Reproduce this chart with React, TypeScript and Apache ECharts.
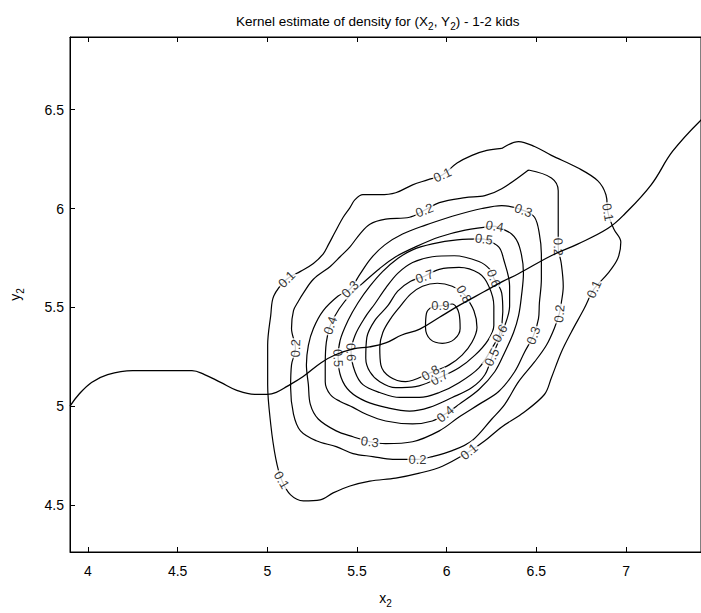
import React, { useEffect, useRef } from "react";
import * as echarts from "echarts";

const xTicks = [4, 4.5, 5, 5.5, 6, 6.5, 7];
const yTicks = [4.5, 5, 5.5, 6, 6.5];

const xMin = 3.9;
const xMax = 7.418;
const yMin = 4.262;
const yMax = 6.868;

// regression curve
const curveX = [3.90, 3.95, 4.02, 4.11, 4.25, 4.39, 4.52, 4.58, 4.65, 4.74, 4.83, 4.93, 5.00, 5.05, 5.11, 5.20, 5.30, 5.38, 5.48, 5.57, 5.66, 5.75, 5.85, 5.96, 6.07, 6.21, 6.31, 6.40, 6.58, 6.73, 6.90, 6.99, 7.14, 7.26, 7.42];
const curveY = [5.00, 5.06, 5.12, 5.16, 5.18, 5.18, 5.18, 5.18, 5.16, 5.12, 5.08, 5.06, 5.06, 5.07, 5.10, 5.15, 5.22, 5.26, 5.29, 5.30, 5.32, 5.36, 5.39, 5.45, 5.51, 5.58, 5.63, 5.67, 5.76, 5.82, 5.90, 5.97, 6.12, 6.29, 6.45];

// contour lines, [x, y] pairs
const c01 = [[6.307,6.304],[6.401,6.339],[6.490,6.314],[6.584,6.269],[6.733,6.205],[6.843,6.140],[6.888,6.070],[6.899,5.981],[6.932,5.896],[6.971,5.831],[6.954,5.747],[6.899,5.672],[6.821,5.592],[6.766,5.493],[6.694,5.373],[6.639,5.273],[6.584,5.144],[6.545,5.059],[6.417,4.960],[6.307,4.895],[6.213,4.825],[6.125,4.770],[5.976,4.696],[5.848,4.661],[5.716,4.636],[5.572,4.621],[5.461,4.596],[5.367,4.561],[5.295,4.526],[5.201,4.521],[5.130,4.551],[5.080,4.626],[5.047,4.736],[5.019,4.910],[5.002,5.109],[5.002,5.308],[5.019,5.458],[5.036,5.557],[5.108,5.642],[5.185,5.682],[5.257,5.722],[5.312,5.771],[5.340,5.816],[5.378,5.881],[5.423,5.956],[5.461,6.005],[5.489,6.045],[5.533,6.070],[5.627,6.070],[5.716,6.080],[5.810,6.120],[5.893,6.145],[5.976,6.170],[6.058,6.230],[6.141,6.269],[6.224,6.294]];
const c02 = [[6.456,6.195],[6.584,6.155],[6.622,6.090],[6.622,5.971],[6.622,5.806],[6.639,5.722],[6.650,5.607],[6.639,5.522],[6.628,5.468],[6.600,5.393],[6.556,5.308],[6.490,5.224],[6.401,5.124],[6.324,5.009],[6.252,4.935],[6.141,4.825],[6.031,4.775],[5.920,4.745],[5.837,4.731],[5.699,4.731],[5.588,4.745],[5.478,4.760],[5.384,4.795],[5.273,4.825],[5.185,4.875],[5.146,4.960],[5.130,5.094],[5.135,5.209],[5.157,5.293],[5.135,5.393],[5.146,5.483],[5.174,5.532],[5.201,5.572],[5.257,5.642],[5.351,5.707],[5.406,5.756],[5.461,5.806],[5.516,5.871],[5.572,5.921],[5.660,5.946],[5.793,5.956],[5.876,5.991],[5.959,6.030],[6.103,6.055],[6.213,6.065],[6.307,6.100]];
const c03 = [[6.031,5.961],[6.197,6.000],[6.307,6.015],[6.428,5.991],[6.490,5.956],[6.517,5.871],[6.528,5.771],[6.528,5.642],[6.517,5.522],[6.512,5.443],[6.484,5.358],[6.434,5.273],[6.379,5.174],[6.290,5.074],[6.180,5.009],[6.069,4.945],[5.959,4.875],[5.810,4.820],[5.660,4.810],[5.572,4.820],[5.478,4.845],[5.384,4.875],[5.284,4.935],[5.240,5.009],[5.229,5.109],[5.218,5.209],[5.229,5.308],[5.257,5.393],[5.312,5.483],[5.395,5.557],[5.461,5.592],[5.516,5.667],[5.577,5.747],[5.655,5.816],[5.754,5.871],[5.882,5.916]];
const c04 = [[6.268,5.911],[6.362,5.871],[6.406,5.806],[6.428,5.672],[6.417,5.557],[6.401,5.458],[6.373,5.373],[6.324,5.273],[6.268,5.174],[6.180,5.084],[6.069,5.009],[5.992,4.960],[5.920,4.925],[5.810,4.910],[5.660,4.925],[5.549,4.960],[5.478,4.994],[5.406,5.024],[5.351,5.059],[5.323,5.124],[5.323,5.209],[5.329,5.323],[5.351,5.408],[5.401,5.493],[5.467,5.567],[5.544,5.632],[5.627,5.697],[5.716,5.756],[5.826,5.806],[5.959,5.856],[6.103,5.891]];
const c05 = [[6.208,5.846],[6.290,5.806],[6.318,5.742],[6.351,5.607],[6.351,5.507],[6.324,5.408],[6.252,5.248],[6.213,5.159],[6.141,5.094],[6.031,5.044],[5.904,4.994],[5.793,4.975],[5.660,4.994],[5.549,5.024],[5.461,5.074],[5.412,5.144],[5.395,5.243],[5.406,5.333],[5.450,5.433],[5.505,5.522],[5.572,5.607],[5.644,5.682],[5.727,5.747],[5.810,5.791],[5.920,5.821],[6.058,5.841]];
const c06 = [[6.263,5.647],[6.307,5.572],[6.313,5.478],[6.296,5.368],[6.252,5.293],[6.180,5.194],[6.069,5.119],[5.959,5.069],[5.848,5.044],[5.738,5.044],[5.627,5.069],[5.533,5.109],[5.489,5.174],[5.467,5.273],[5.489,5.358],[5.544,5.448],[5.599,5.517],[5.660,5.597],[5.727,5.672],[5.810,5.727],[5.920,5.756],[6.042,5.761],[6.180,5.732],[6.241,5.692]];
const c07 = [[5.876,5.657],[5.959,5.692],[6.069,5.702],[6.180,5.672],[6.235,5.607],[6.263,5.507],[6.263,5.408],[6.230,5.333],[6.158,5.258],[6.069,5.194],[5.959,5.144],[5.826,5.099],[5.716,5.094],[5.627,5.124],[5.572,5.174],[5.549,5.243],[5.555,5.348],[5.599,5.433],[5.671,5.507],[5.727,5.582],[5.799,5.632]];
const c08 = [[6.097,5.567],[6.031,5.607],[5.948,5.622],[5.865,5.607],[5.799,5.567],[5.743,5.507],[5.688,5.443],[5.644,5.373],[5.627,5.298],[5.633,5.209],[5.682,5.149],[5.771,5.124],[5.909,5.169],[6.014,5.209],[6.086,5.258],[6.141,5.323],[6.169,5.398],[6.152,5.483]];
const c09 = [[5.965,5.507],[6.031,5.517],[6.069,5.468],[6.075,5.393],[6.042,5.338],[5.976,5.318],[5.909,5.338],[5.882,5.398],[5.887,5.468],[5.920,5.502]];

const contours = [c01, c02, c03, c04, c05, c06, c07, c08, c09];

// contour labels
const labelText = ["0.1","0.1","0.1","0.1","0.1","0.1","0.2","0.2","0.2","0.2","0.2","0.3","0.3","0.3","0.3","0.4","0.4","0.4","0.5","0.5","0.5","0.6","0.6","0.6","0.7","0.7","0.8","0.8","0.9"];
const labelX = [5.976,5.108,5.080,6.125,6.821,6.899,5.876,5.157,5.837,6.622,6.628,6.428,5.461,5.572,6.484,6.268,5.351,5.992,6.208,5.395,6.252,6.263,5.467,6.296,5.876,5.959,6.097,5.909,5.965];
const labelY = [6.170,5.642,4.626,4.770,5.592,5.981,5.991,5.293,4.731,5.806,5.468,5.991,5.592,4.820,5.358,5.911,5.408,4.960,5.846,5.243,5.248,5.647,5.273,5.368,5.657,5.144,5.567,5.169,5.507];
const labelAngle = [25,45,-60,40,65,-80,22,88,0,-88,85,-20,45,-8,70,-10,70,40,-8,-88,65,-70,-88,60,20,30,-60,30,0];

const FONT = "'Liberation Sans', Arial, sans-serif";

export default function App() {
  const ref = useRef<HTMLDivElement>(null);
  useEffect(() => {
    if (!ref.current) return;
    const chart = echarts.init(ref.current, null, { renderer: "svg" });
    const lineSeries = contours.map((pts) => ({
      type: "line",
      data: [...pts, pts[0]],
      smooth: 0.35,
      symbol: "none",
      lineStyle: { color: "#000", width: 1.2 },
      z: 2,
      silent: true,
    }));
    const labelData = labelText.map((t, i) => ({
      value: [labelX[i], labelY[i]],
      label: { formatter: t, rotate: labelAngle[i] },
    }));
    const option = {
      animation: false,
      backgroundColor: "#fff",
      title: {
        text: "Kernel estimate of density for (X{s|2}, Y{s|2}) - 1-2 kids",
        left: 231,
        top: 7,
        textStyle: {
          fontFamily: FONT,
          fontSize: 13.5,
          fontWeight: "normal",
          color: "#000",
          lineHeight: 19,
          rich: {
            s: { fontSize: 10, fontFamily: FONT, color: "#000", lineHeight: 19, verticalAlign: "bottom" },
          },
        },
      },
      grid: { left: 65, top: 37, right: 0, bottom: 53, show: true, borderColor: "#000", borderWidth: 1 },
      xAxis: [
        {
          type: "value",
          min: xMin,
          max: xMax,
          position: "bottom",
          name: "{a|x}{s|2}",
          nameLocation: "middle",
          nameGap: 36,
          nameTextStyle: {
            rich: {
              a: { fontSize: 14, fontFamily: FONT, color: "#000", lineHeight: 20 },
              s: { fontSize: 10, fontFamily: FONT, color: "#000", lineHeight: 20, verticalAlign: "bottom" },
            },
          },
          axisLine: { show: true, lineStyle: { color: "#000" } },
          axisTick: { show: true, inside: true, length: 5, customValues: xTicks, lineStyle: { color: "#000" } },
          axisLabel: { customValues: xTicks, color: "#000", fontSize: 14, fontFamily: FONT, margin: 12 },
          splitLine: { show: false },
        },
        {
          type: "value",
          min: xMin,
          max: xMax,
          position: "top",
          axisLine: { show: true, lineStyle: { color: "#000" } },
          axisTick: { show: true, inside: true, length: 5, customValues: xTicks, lineStyle: { color: "#000" } },
          axisLabel: { show: false },
          splitLine: { show: false },
        },
      ],
      yAxis: [
        {
          type: "value",
          min: yMin,
          max: yMax,
          name: "{a|y}{s|2}",
          nameLocation: "middle",
          nameGap: 45,
          nameRotate: 90,
          nameTextStyle: {
            rich: {
              a: { fontSize: 14, fontFamily: FONT, color: "#000", lineHeight: 20 },
              s: { fontSize: 10, fontFamily: FONT, color: "#000", lineHeight: 20, verticalAlign: "bottom" },
            },
          },
          axisLine: { show: true, lineStyle: { color: "#000" } },
          axisTick: { show: true, inside: true, length: 5, customValues: yTicks, lineStyle: { color: "#000" } },
          axisLabel: { customValues: yTicks, color: "#000", fontSize: 14, fontFamily: FONT, margin: 6 },
          splitLine: { show: false },
        },
      ],
      series: [
        ...lineSeries,
        {
          type: "scatter",
          data: labelData,
          symbolSize: 1,
          itemStyle: { color: "rgba(0,0,0,0)" },
          z: 3,
          silent: true,
          label: {
            show: true,
            position: "inside",
            color: "#000",
            fontSize: 13,
            fontFamily: FONT,
            backgroundColor: "#fff",
            padding: [0, 1],
          },
        },
        {
          type: "line",
          data: curveX.map((x, i) => [x, curveY[i]]),
          smooth: 0.4,
          symbol: "none",
          lineStyle: { color: "#000", width: 1.3 },
          z: 4,
          silent: true,
        },
      ],
    };
    chart.setOption(option as any);
    return () => chart.dispose();
  }, []);
  return (
    <div
      ref={ref}
      style={{ position: "fixed", left: 0, top: 0, width: 701, height: 613, background: "#fff" }}
    />
  );
}
